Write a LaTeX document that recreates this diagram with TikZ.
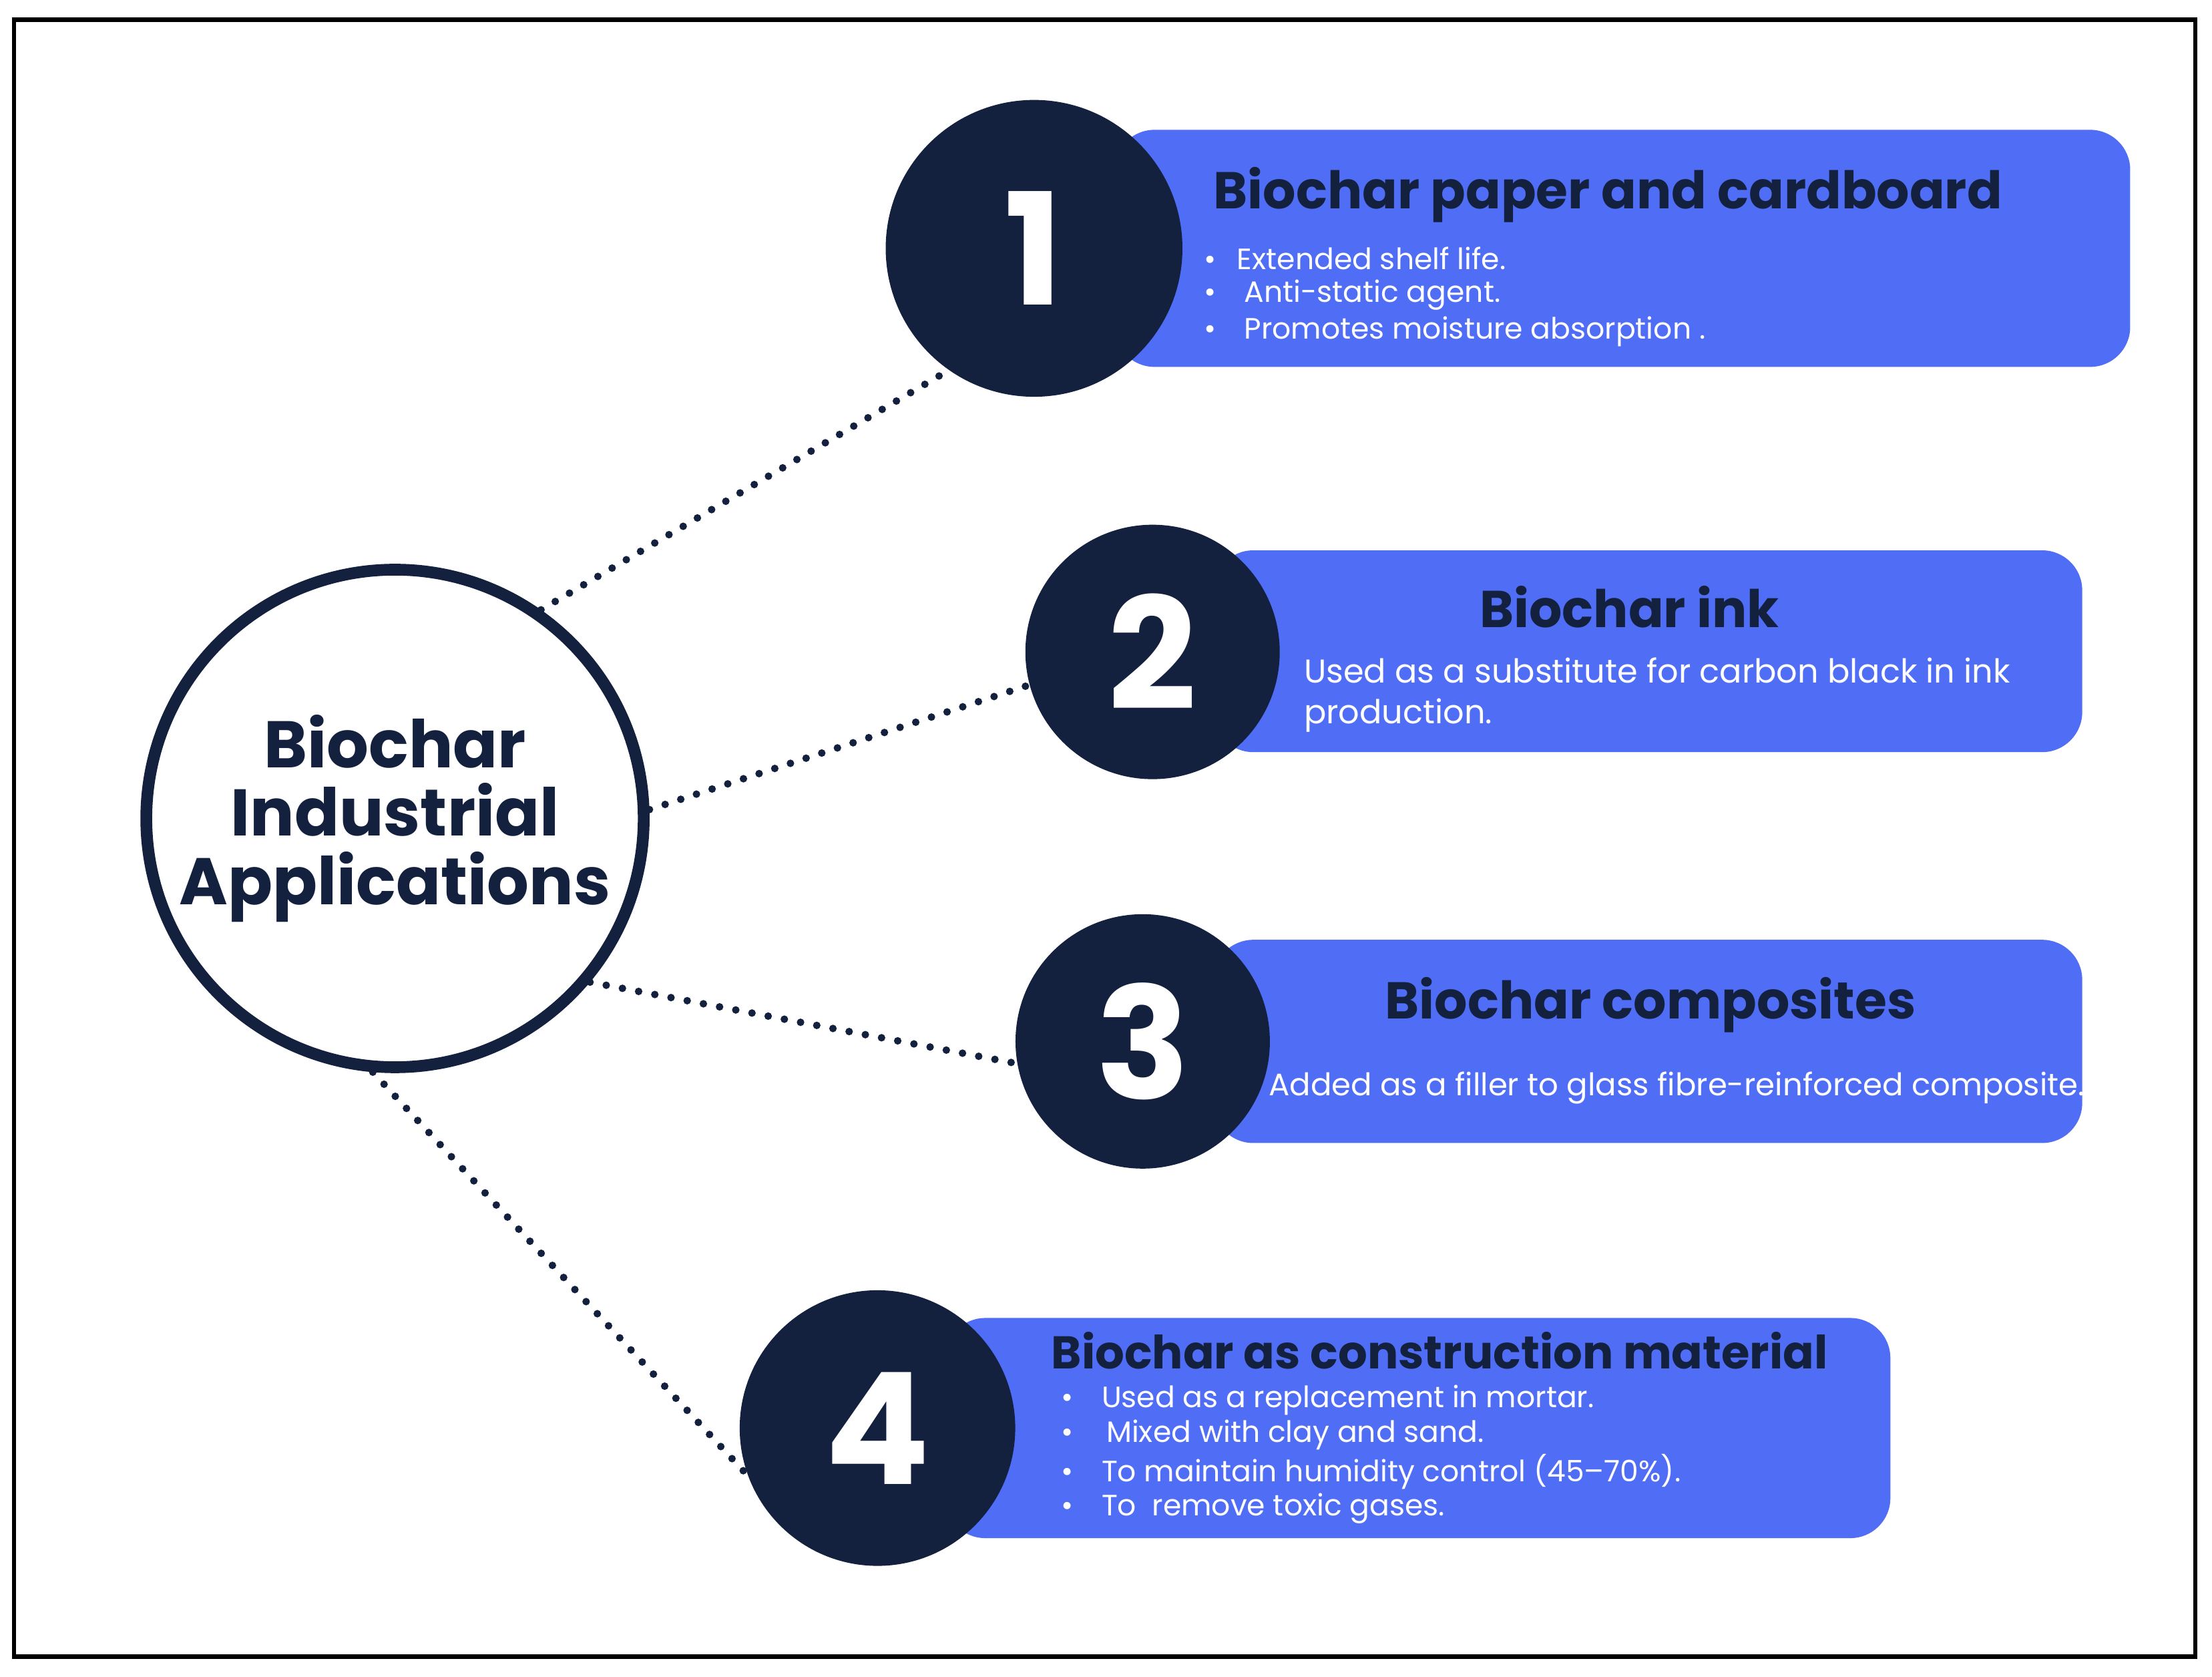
\documentclass[tikz,border=0pt]{standalone}
\usepackage{fontspec}
\setmainfont{Poppins}
\begin{document}
\begin{tikzpicture}[x=0.599pt,y=-0.599pt,
  navy/.style={fill=navyc},
  box/.style={fill=bluec,rounded corners=17pt},
  num/.style={text=white,font=\fontsize{66}{66}\selectfont\bfseries},
  ttl/.style={text=navyc,font=\fontsize{22}{26}\selectfont\bfseries},
  txt/.style={text=white,font=\fontsize{12.5}{15}\selectfont,anchor=west,inner sep=0pt},
  dots/.style={navyc,line width=3.2pt,dash pattern=on 0pt off 7pt,line cap=round}]
\definecolor{navyc}{HTML}{13203E}
\definecolor{bluec}{HTML}{4F6EF5}
\useasboundingbox (0,0) rectangle (1568,1188);
\fill[white] (0,0) rectangle (1568,1188);
\draw[line width=1.8pt] (10,14) rectangle (1556,1174);
% boxes
\fill[box] (790,92) rectangle (1510,260);
\fill[box] (860,390) rectangle (1476,533);
\fill[box] (860,666) rectangle (1476,810);
\fill[box] (670,934) rectangle (1340,1090);
% circles
\node[circle,draw=navyc,line width=5pt,minimum size=174pt,fill=white,
  align=center,text=navyc,font=\fontsize{28}{29}\selectfont\bfseries] (c) at (280,580) {Biochar\\Industrial\\Applications};
\node[circle,navy,minimum size=126pt,num] (n1) at (733,176) {1};
\node[circle,navy,minimum size=108pt,num] (n2) at (817,462) {2};
\node[circle,navy,minimum size=108pt,num] (n3) at (810,738) {3};
\node[circle,navy,minimum size=117pt,num] (n4) at (622,1012) {4};
% connectors
\draw[dots] (c.55) -- (n1.235);
\draw[dots] (c.2) -- (n2.195);
\draw[dots] (c.-40) -- (n3.190);
\draw[dots] (c.-95) -- (n4.200);
% texts box1
\node[ttl,anchor=west,inner sep=0pt] (t1) at (860,138) {Biochar paper and cardboard};
\node[txt] (b11) at (853,183) {\textbullet\hspace{9pt}Extended shelf life.};
\node[txt] (b12) at (853,209) {\textbullet\hspace{12pt}Anti-static agent.};
\node[txt] (b13) at (853,235) {\textbullet\hspace{12pt}Promotes moisture absorption .};
% box2
\node[ttl] (t2) at (1155,430) {Biochar ink};
\node[txt,font=\fontsize{14}{16}\selectfont] (b21) at (924,475) {Used as a substitute for carbon black in ink};
\node[txt,font=\fontsize{14}{16}\selectfont] (b22) at (924,507) {production.};
% box3
\node[ttl] (t3) at (1170,712) {Biochar composites};
\node[txt,font=\fontsize{13.2}{16}\selectfont] (b31) at (899,771) {Added as a filler to glass fibre-reinforced composite.};
% box4
\node[ttl,anchor=west,inner sep=0pt,font=\fontsize{19.5}{22}\selectfont\bfseries] (t4) at (745,957) {Biochar as construction material};
\node[txt] (b41) at (752,992) {\textbullet\hspace{12pt}Used as a replacement in mortar.};
\node[txt] (b42) at (752,1017) {\textbullet\hspace{14pt}Mixed with clay and sand.};
\node[txt] (b43) at (752,1043) {\textbullet\hspace{12pt}To maintain humidity control (45–70\%).};
\node[txt] (b44) at (752,1069) {\textbullet\hspace{12pt}To\ \ remove toxic gases.};
\end{tikzpicture}
\end{document}
